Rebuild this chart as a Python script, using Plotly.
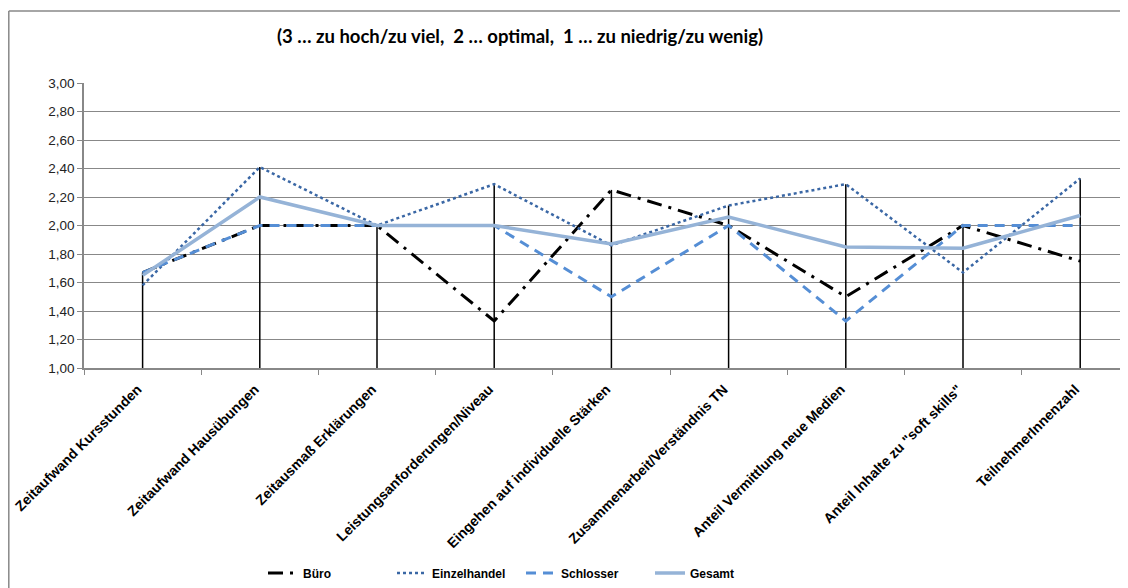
import plotly.graph_objects as go

categories = [
    "Zeitaufwand Kursstunden",
    "Zeitaufwand Hausübungen",
    "Zeitausmaß Erklärungen",
    "Leistungsanforderungen/Niveau",
    "Eingehen auf individuelle Stärken",
    "Zusammenarbeit/Verständnis TN",
    "Anteil Vermittlung neue Medien",
    "Anteil Inhalte zu \"soft skills\"",
    "TeilnehmerInnenzahl",
]
buero = [1.67, 2.00, 2.00, 1.33, 2.25, 2.00, 1.50, 2.00, 1.75]
einzelhandel = [1.58, 2.41, 2.00, 2.29, 1.86, 2.14, 2.29, 1.67, 2.33]
schlosser = [1.67, 2.00, 2.00, 2.00, 1.50, 2.00, 1.33, 2.00, 2.00]
gesamt = [1.65, 2.20, 2.00, 2.00, 1.87, 2.06, 1.85, 1.84, 2.07]
title_text = "(3 … zu hoch/zu viel,\u00a0 2 … optimal,\u00a0 1 … zu niedrig/zu wenig)"
y_ticks = [1.0, 1.2, 1.4, 1.6, 1.8, 2.0, 2.2, 2.4, 2.6, 2.8, 3.0]

# page body has an 8px margin; work in reference pixel coords and shift
OFF = 8
W, H = 1128 - OFF, 588 - OFF
L = 84 - OFF
T = 83 - OFF
B = H - (368 - OFF)
R = 0
PW, PH = W - L - R, H - T - B

def px_x(p):
    return (p - OFF - L) / PW

def px_y(p):
    return (H - B - (p - OFF)) / PH

series = [buero, einzelhandel, schlosser, gesamt]
max_vals = [max(v) for v in zip(*series)]

drop_x, drop_y = [], []
for c, m in zip(categories, max_vals):
    drop_x += [c, c, None]
    drop_y += [y_ticks[0], m, None]

fig = go.Figure()
fig.add_trace(go.Scatter(x=drop_x, y=drop_y, mode="lines",
                         line=dict(color="black", width=1.5),
                         showlegend=False, hoverinfo="skip"))
fig.add_trace(go.Scatter(x=categories, y=buero, name="Büro", mode="lines",
                         line=dict(color="black", width=3, dash="15px,7px,3px,7px")))
fig.add_trace(go.Scatter(x=categories, y=einzelhandel, name="Einzelhandel", mode="lines",
                         line=dict(color="#3a67a5", width=2.5, dash="dot")))
fig.add_trace(go.Scatter(x=categories, y=schlosser, name="Schlosser", mode="lines",
                         line=dict(color="#558ed5", width=3, dash="10px,7px")))
fig.add_trace(go.Scatter(x=categories, y=gesamt, name="Gesamt", mode="lines",
                         line=dict(color="#95b3d7", width=3.5)))

grey = "#888888"
fig.update_layout(
    width=W, height=H,
    margin=dict(l=L, r=R, t=T, b=B, autoexpand=False),
    paper_bgcolor="white", plot_bgcolor="white",
    separators=",.",
    title=dict(text=title_text, x=px_x(520), xref="paper", xanchor="center",
               y=1 - (37 - OFF) / H, yref="container", yanchor="middle",
               font=dict(family="Lato", size=18.5, color="black", weight="bold")),
    legend=dict(orientation="h", x=px_x(521), xanchor="center",
                y=px_y(573), yanchor="middle",
                font=dict(family="Liberation Sans", size=12, color="black", weight="bold"),
                itemwidth=30, entrywidth=84, entrywidthmode="pixels",
                bgcolor="rgba(0,0,0,0)"),
    xaxis=dict(type="category", categoryorder="array", categoryarray=categories,
               range=[-0.5, -0.5 + PW / 117.2], automargin=False,
               tickson="boundaries", ticks="outside", ticklen=5, tickcolor=grey,
               showgrid=False, showline=True, linecolor=grey, linewidth=1.5,
               tickangle=-45, ticklabelshift=-5, ticklabelstandoff=6,
               tickfont=dict(family="Liberation Sans", size=14, color="black", weight="bold")),
    yaxis=dict(range=[1, 3], tickvals=y_ticks, tickformat=".2f", automargin=False,
               ticks="outside", ticklen=5, tickcolor=grey,
               showgrid=True, gridcolor=grey, gridwidth=1.2,
               showline=True, linecolor=grey, linewidth=1.5, zeroline=False,
               tickfont=dict(family="Liberation Sans", size=13.5, color="#222222")),
    shapes=[
        dict(type="line", xref="paper", yref="paper", x0=px_x(8.8), x1=px_x(8.8),
             y0=px_y(11), y1=px_y(600), line=dict(color=grey, width=1.5)),
        dict(type="line", xref="paper", yref="paper", x0=px_x(8.8), x1=px_x(1140),
             y0=px_y(11), y1=px_y(11), line=dict(color=grey, width=1.5)),
    ],
)

fig.write_html("out.html")
